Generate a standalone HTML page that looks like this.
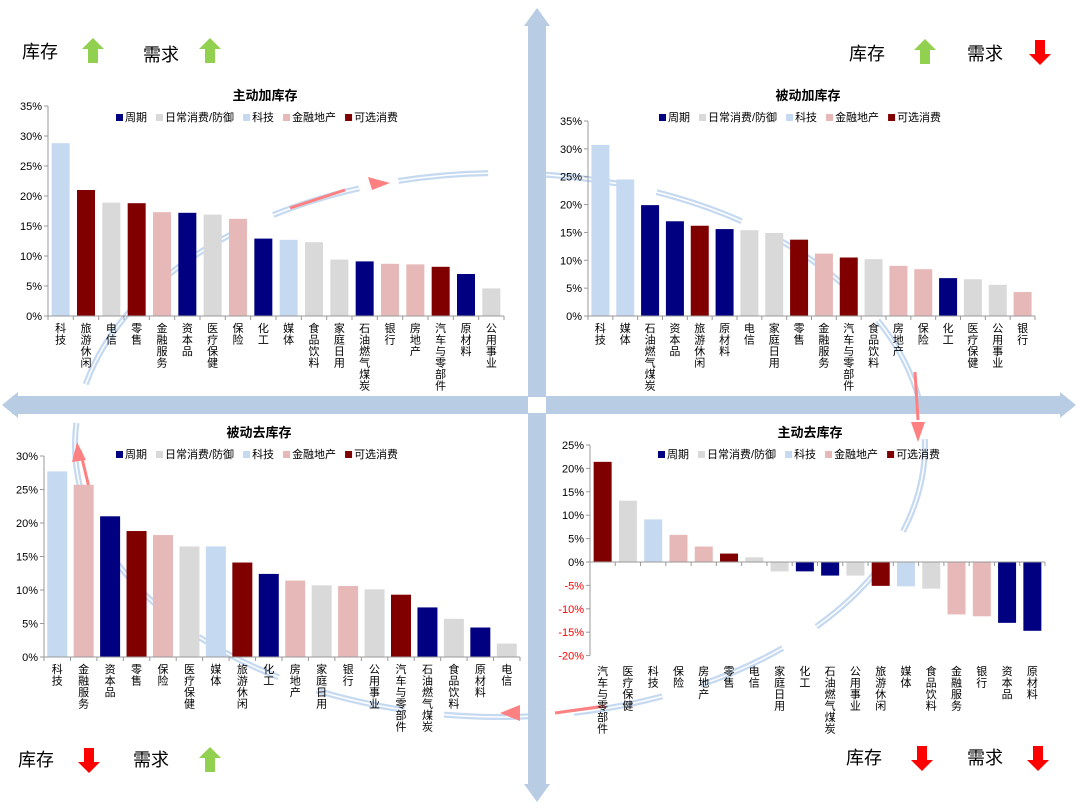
<!DOCTYPE html>
<html><head><meta charset="utf-8"><style>
body{margin:0;background:#fff;}
svg{display:block;font-family:"Liberation Sans","Noto Sans CJK SC",sans-serif;}
</style></head><body>
<svg id="s" width="1080" height="812" viewBox="0 0 1080 812">
<g id="bg">
<ellipse cx="500" cy="445" rx="425" ry="272" fill="none" stroke="#c5d9f1" stroke-width="6" stroke-dasharray="90 40"/>
<ellipse cx="500" cy="445" rx="425" ry="272" fill="none" stroke="#fff" stroke-width="1.5" stroke-dasharray="90 40"/>
<rect x="528" y="20" width="18" height="770" fill="#b8cce4"/>
<polygon points="537,8 524,26 550,26" fill="#b8cce4"/>
<polygon points="537,802 524,784 550,784" fill="#b8cce4"/>
<rect x="12" y="396" width="1052" height="18" fill="#b8cce4"/>
<polygon points="2,405 18,392 18,418" fill="#b8cce4"/>
<polygon points="1076,405 1060,392 1060,418" fill="#b8cce4"/>
<rect x="528" y="397" width="18" height="16" fill="#fff"/>
<path d="M290,208 L345,190" stroke="#ff8080" stroke-width="3" fill="none"/>
<polygon points="390,183 368,177 372,190" fill="#ff8080"/>
<path d="M915,372 L918,420" stroke="#ff8080" stroke-width="3" fill="none"/>
<polygon points="918,442 911,422 925,422" fill="#ff8080"/>
<path d="M555,713 L605,706" stroke="#ff8080" stroke-width="3" fill="none"/>
<polygon points="500,713 520,705 520,721" fill="#ff8080"/>
<path d="M92,500 L80,450" stroke="#ff8080" stroke-width="3" fill="none"/>
<polygon points="77,442 72,462 86,460" fill="#ff8080"/>
</g>
<g id="charts"></g>
<g id="heads"></g>
</svg>
<script>
const NS="http://www.w3.org/2000/svg";
const COL={n:"#000080",g:"#d9d9d9",b:"#c5d9f1",p:"#e6b8b7",r:"#800000"};
const legendNames=["周期","日常消费/防御","科技","金融地产","可选消费"];
const legendKeys=["n","g","b","p","r"];

const tlCats=["科技","旅游休闲","电信","零售","金融服务","资本品","医疗保健","保险","化工","媒体","食品饮料","家庭日用","石油燃气煤炭","银行","房地产","汽车与零部件","原材料","公用事业"];
const tlVals=[28.8,21.0,18.9,18.8,17.3,17.2,16.9,16.2,12.9,12.7,12.3,9.4,9.1,8.7,8.6,8.2,7.0,4.6];
const tlGroups=["b","r","g","r","p","n","g","p","n","b","g","g","n","p","p","r","n","g"];

const trCats=["科技","媒体","石油燃气煤炭","资本品","旅游休闲","原材料","电信","家庭日用","零售","金融服务","汽车与零部件","食品饮料","房地产","保险","化工","医疗保健","公用事业","银行"];
const trVals=[30.7,24.5,19.9,17.0,16.2,15.6,15.4,14.9,13.7,11.2,10.5,10.2,9.0,8.4,6.8,6.6,5.6,4.3];
const trGroups=["b","b","n","n","r","n","g","g","r","p","r","g","p","p","n","g","g","p"];

const blCats=["科技","金融服务","资本品","零售","保险","医疗保健","媒体","旅游休闲","化工","房地产","家庭日用","银行","公用事业","汽车与零部件","石油燃气煤炭","食品饮料","原材料","电信"];
const blVals=[27.7,25.7,21.0,18.8,18.2,16.5,16.5,14.1,12.4,11.4,10.7,10.6,10.1,9.3,7.4,5.7,4.4,2.0];
const blGroups=["b","p","n","r","p","g","b","r","n","p","g","p","g","r","n","g","n","g"];

const brCats=["汽车与零部件","医疗保健","科技","保险","房地产","零售","电信","家庭日用","化工","石油燃气煤炭","公用事业","旅游休闲","媒体","食品饮料","金融服务","银行","资本品","原材料"];
const brVals=[21.4,13.1,9.1,5.8,3.3,1.8,1.0,-2.0,-2.0,-2.9,-2.9,-5.1,-5.2,-5.7,-11.2,-11.6,-13.0,-14.7];
const brGroups=["r","g","b","p","p","r","g","g","n","n","g","r","b","g","p","p","n","n"];

const root=document.getElementById('charts');
function el(tag,attrs,parent,txt){const e=document.createElementNS(NS,tag);for(const k in attrs)e.setAttribute(k,attrs[k]);if(txt!==undefined)e.textContent=txt;(parent||root).appendChild(e);return e;}

function chart(c){
  const g=el('g',{});
  
  
  const y=v=>c.yZero-(v)*(c.yZero-c.yTopPx)/c.vmax;
  const n=c.cats.length, cw=(c.x1-c.x0)/n;
  const t=el('text',{x:c.titleX,y:c.titleY,'font-size':13,'font-weight':'bold','text-anchor':'middle',fill:'#000'},g,c.title);
  
  
  for(let i=0;i<n;i++){
    const v=c.vals[i];const x=c.x0+cw*i+(cw-c.bw)/2;
    const yt=Math.min(y(v),y(0)),h=Math.abs(y(v)-y(0));
    const r=el('rect',{x:x,y:yt,width:c.bw,height:h,fill:COL[c.groups[i]]},g);
    
    
    const lb=el('text',{'font-size':11,'text-anchor':'middle',fill:'#000'},g);
    
    
    const chars=[...c.cats[i]];
    chars.forEach((ch,j)=>{el('tspan',{x:c.x0+cw*i+cw/2,y:c.labelY+11+j*11.5},lb,ch);});
  }
  el('line',{x1:c.x0,y1:y(c.vmax),x2:c.x0,y2:y(c.vmin),stroke:'#999','stroke-width':1},g);
  el('line',{x1:c.x0,y1:y(0),x2:c.x1,y2:y(0),stroke:'#999','stroke-width':1},g);
  for(let i=0;i<=n;i++){el('line',{x1:c.x0+cw*i,y1:y(0),x2:c.x0+cw*i,y2:y(0)+4,stroke:'#999'},g);}
  for(let v=c.vmin;v<=c.vmax+0.01;v+=c.step){
    el('line',{x1:c.x0-4,y1:y(v),x2:c.x0,y2:y(v),stroke:'#999'},g);
    const tl=el('text',{x:c.x0-6,y:y(v)+4,'font-size':11,'text-anchor':'end',fill:v<0?'#ff0000':'#000'},g,v+'%');
    
    
  }
  let lx=c.legX;
  for(let k=0;k<5;k++){
    const sq=el('rect',{x:lx,y:c.legY-7,width:7,height:7,fill:COL[legendKeys[k]]},g);
    
    
    const lt=el('text',{x:lx+9,y:c.legY,'font-size':11,fill:'#000'},g,legendNames[k]);
    
    
    lx+=9+lt.getComputedTextLength()+9;
  }
}
chart({name:'chart-active-restocking',title:'主动加库存',titleX:265,titleY:100,cats:tlCats,vals:tlVals,groups:tlGroups,x0:48,x1:504,yZero:316,yTopPx:106,vmax:35,vmin:0,step:5,bw:18,labelY:321,legX:116,legY:121});
chart({name:'chart-passive-restocking',title:'被动加库存',titleX:808,titleY:100,cats:trCats,vals:trVals,groups:trGroups,x0:588,x1:1035,yZero:316,yTopPx:121,vmax:35,vmin:0,step:5,bw:18,labelY:321,legX:659,legY:121});
chart({name:'chart-passive-destocking',title:'被动去库存',titleX:259,titleY:437,cats:blCats,vals:blVals,groups:blGroups,x0:44,x1:520,yZero:657,yTopPx:456,vmax:30,vmin:0,step:5,bw:20,labelY:662,legX:116,legY:458});
chart({name:'chart-active-destocking',title:'主动去库存',titleX:810,titleY:437,cats:brCats,vals:brVals,groups:brGroups,x0:590,x1:1045,yZero:562,yTopPx:445,vmax:25,vmin:-20,step:5,bw:18,labelY:664,legX:658,legY:458});

const heads=document.getElementById('heads');
function arrow(x,y,up,name){
  const c=up?'#92d050':'#ff0000';
  const pts=up?[[x,y-13],[x+11,y-2],[x+5,y-2],[x+5,y+12],[x-5,y+12],[x-5,y-2],[x-11,y-2]]:[[x,y+13],[x+11,y+2],[x+5,y+2],[x+5,y-12],[x-5,y-12],[x-5,y+2],[x-11,y+2]];
  const p=el('polygon',{points:pts.map(q=>q.join(',')).join(' '),fill:c},heads);
  
  
}
function label(x,y,t,name){const e=el('text',{x:x,y:y,'font-size':18,fill:'#000'},heads,t);}
label(22,58,'库存','tl-inventory-label');arrow(93,51,true,'tl-inventory-up-arrow');label(143,61,'需求','tl-demand-label');arrow(210,51,true,'tl-demand-up-arrow');
label(849,60,'库存','tr-inventory-label');arrow(925,52,true,'tr-inventory-up-arrow');label(967,60,'需求','tr-demand-label');arrow(1040,52,false,'tr-demand-down-arrow');
label(18,766,'库存','bl-inventory-label');arrow(89,760,false,'bl-inventory-down-arrow');label(133,766,'需求','bl-demand-label');arrow(210,760,true,'bl-demand-up-arrow');
label(846,764,'库存','br-inventory-label');arrow(922,758,false,'br-inventory-down-arrow');label(967,764,'需求','br-demand-label');arrow(1038,758,false,'br-demand-down-arrow');
</script>
</body></html>
